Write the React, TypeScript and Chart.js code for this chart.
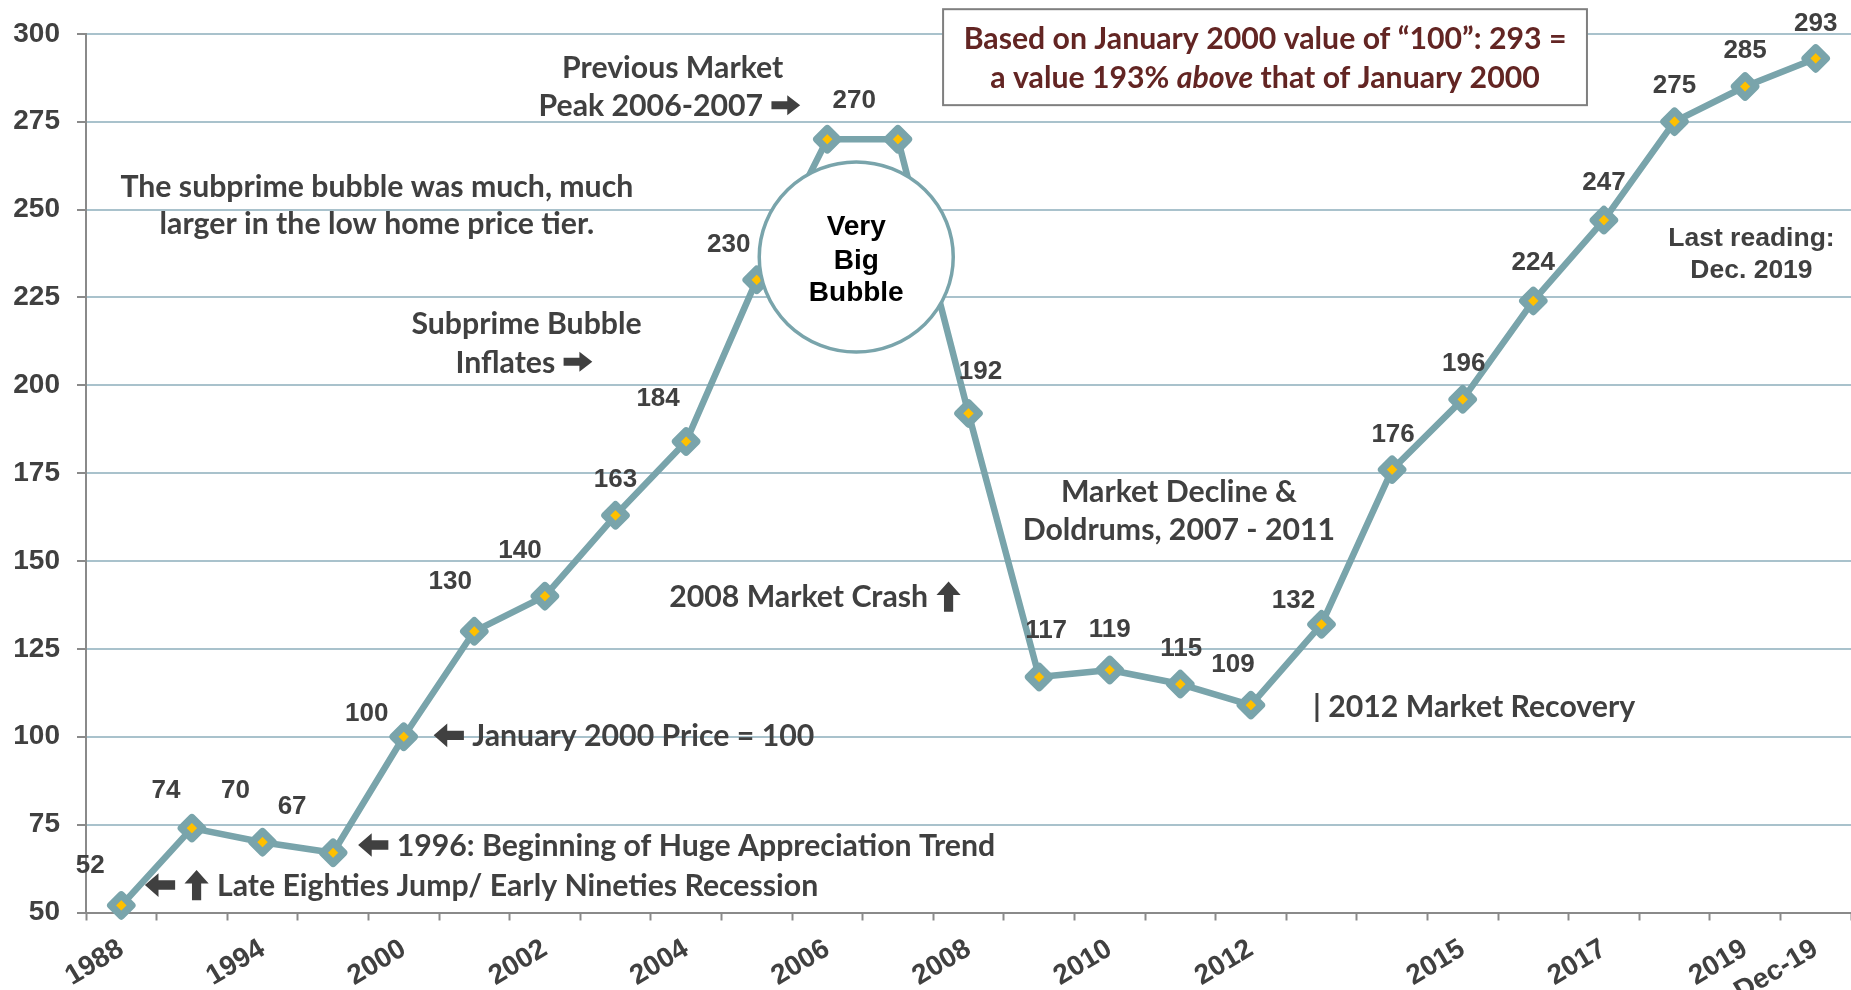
import React, { useEffect, useRef } from 'react';
import { Chart, registerables } from 'chart.js';

Chart.register(...registerables);

// ---------- data ----------
const categories = ['1988', '', '1994', '', '2000', '', '2002', '', '2004', '', '2006', '', '2008', '', '2010', '', '2012', '', '', '2015', '', '2017', '', '2019', 'Dec-19'];
const priceIndex = [52, 74, 70, 67, 100, 130, 140, 163, 184, 230, 270, 270, 192, 117, 119, 115, 109, 132, 176, 196, 224, 247, 275, 285, 293];
const yMin = 50;
const yMax = 300;
const yStep = 25;

// where each value label sits relative to its point (px); null = no label
const labelShift: ([number, number] | null)[] = [
  [-31, -42], [-26, -40], [-27, -54], [-41, -48], [-37, -25], [-24, -52], [-25, -48], [0, -38],
  [-28, -45], [-28, -37], [27, -41], null, [12, -44], [7, -48], [0, -42], [1, -37], [-18, -42],
  [-28, -26], [1, -37], [1, -38], [0, -40], [0, -39], [0, -38], [0, -38], [0, -37],
];

// annotation texts, anchored in data space (category index, value)
type Note = { text: string; at: [number, number]; align: 'left' | 'center' };
const notes: Note[] = [
  { text: 'Previous Market', at: [7.81, 290.5], align: 'center' },
  { text: 'Peak 2006-2007 {R}', at: [7.77, 279.7], align: 'center' },
  { text: 'The subprime bubble was much, much', at: [3.62, 256.7], align: 'center' },
  { text: 'larger in the low home price tier.', at: [3.62, 246.2], align: 'center' },
  { text: 'Subprime Bubble', at: [5.74, 217.8], align: 'center' },
  { text: 'Inflates {R}', at: [5.71, 206.7], align: 'center' },
  { text: 'Market Decline &', at: [14.98, 170], align: 'center' },
  { text: 'Doldrums, 2007 - 2011', at: [14.98, 159], align: 'center' },
  { text: '2008 Market Crash {U}', at: [7.76, 139.9], align: 'left' },
  { text: '| 2012 Market Recovery', at: [16.88, 108.7], align: 'left' },
  { text: '{L} January 2000 Price = 100', at: [4.41, 100.4], align: 'left' },
  { text: '{L} 1996: Beginning of Huge Appreciation Trend', at: [3.34, 69.2], align: 'left' },
  { text: '{L} {U} Late Eighties Jump/ Early Nineties Recession', at: [0.32, 57.8], align: 'left' },
];
const bubbleWords = ['Very', 'Big', 'Bubble'];
const bubbleWordValues = [245.6, 236.0, 226.8];
const bubbleCenter: [number, number] = [10.41, 236.5];
const lastReading = ['Last reading:', 'Dec. 2019'];
const lastReadingAt: [number, number][] = [[23.09, 242.2], [23.09, 233.1]];
const boxLines = ['Based on January 2000 value of \u201C100\u201D: 293 =', 'a value 193% *above* that of January 2000'];
const boxLineAt: [number, number][] = [[16.2, 298.7], [16.2, 287.6]];
const boxCorners: [number, number][] = [[11.64, 307.0], [20.76, 279.7]];

// ---------- styles ----------
const TEAL = '#79a4ab';
const YELLOW = '#ffc000';
const AXIS = '#8a8a8a';
const GRID = '#a9c2cc';
const TEXT = '#404040';
const DARKRED = '#632523';
const ARIAL = '"Liberation Sans", Arial, sans-serif';
const CALIBRI = 'Lato, "Liberation Sans", sans-serif';

type Part = { t: string; italic?: boolean; arrow?: 'L' | 'R' | 'U' };

function parse(text: string): Part[] {
  const out: Part[] = [];
  text.split(/(\{[LRU]\}|\*[^*]+\*)/).forEach((s) => {
    if (!s) return;
    if (/^\{[LRU]\}$/.test(s)) out.push({ t: '', arrow: s[1] as 'L' | 'R' | 'U' });
    else if (/^\*[^*]+\*$/.test(s)) out.push({ t: s.slice(1, -1), italic: true });
    else out.push({ t: s });
  });
  return out;
}

function arrowSize(dir: 'L' | 'R' | 'U', s: number): [number, number] {
  if (dir === 'U') return [s * 0.8, s * 1.0];
  if (dir === 'L') return [s * 1.0, s * 0.78];
  return [s * 0.95, s * 0.66];
}

function drawArrow(ctx: CanvasRenderingContext2D, x: number, cy: number, dir: 'L' | 'R' | 'U', s: number) {
  const [w, h] = arrowSize(dir, s);
  ctx.beginPath();
  if (dir === 'U') {
    const hh = h * 0.45;
    const t = w * 0.19;
    const cx = x + w / 2;
    const top = cy - h / 2;
    ctx.moveTo(cx, top);
    ctx.lineTo(x + w, top + hh);
    ctx.lineTo(cx + t, top + hh);
    ctx.lineTo(cx + t, cy + h / 2);
    ctx.lineTo(cx - t, cy + h / 2);
    ctx.lineTo(cx - t, top + hh);
    ctx.lineTo(x, top + hh);
  } else {
    const hw = w * 0.45;
    const t = h * 0.2;
    const sgn = dir === 'L' ? 1 : -1;
    const tip = dir === 'L' ? x : x + w;
    const tail = dir === 'L' ? x + w : x;
    ctx.moveTo(tip, cy);
    ctx.lineTo(tip + sgn * hw, cy - h / 2);
    ctx.lineTo(tip + sgn * hw, cy - t);
    ctx.lineTo(tail, cy - t);
    ctx.lineTo(tail, cy + t);
    ctx.lineTo(tip + sgn * hw, cy + t);
    ctx.lineTo(tip + sgn * hw, cy + h / 2);
  }
  ctx.closePath();
  ctx.fill();
}

function drawRich(
  ctx: CanvasRenderingContext2D,
  text: string,
  x: number,
  cy: number,
  align: 'left' | 'center',
  size: number,
  family: string,
  color: string,
) {
  const parts = parse(text);
  const fontOf = (p: Part) => `${p.italic ? 'italic ' : ''}bold ${size}px ${family}`;
  const widths = parts.map((p) => {
    if (p.arrow) return arrowSize(p.arrow, size)[0] + 2;
    ctx.font = fontOf(p);
    return ctx.measureText(p.t).width;
  });
  const total = widths.reduce((a, b) => a + b, 0);
  let cur = align === 'center' ? x - total / 2 : x;
  ctx.fillStyle = color;
  ctx.textAlign = 'left';
  ctx.textBaseline = 'alphabetic';
  parts.forEach((p, i) => {
    if (p.arrow) {
      drawArrow(ctx, cur + 1, cy, p.arrow, size);
    } else {
      ctx.font = fontOf(p);
      ctx.fillText(p.t, cur, cy + size * 0.36);
    }
    cur += widths[i];
  });
}

const overlayPlugin = {
  id: 'overlay',
  beforeDatasetsDraw(chart: any) {
    chart.ctx.save();
    chart.ctx.lineJoin = 'round';
  },
  afterDatasetsDraw(chart: any) {
    chart.ctx.restore();
    const ctx: CanvasRenderingContext2D = chart.ctx;
    const xs = chart.scales.x;
    const ys = chart.scales.y;
    const X = (v: number) => xs.getPixelForValue(v);
    const Y = (v: number) => ys.getPixelForValue(v);
    ctx.save();

    // annotation font size fitted on a reference line
    ctx.font = `bold 100px ${CALIBRI}`;
    const ref = ctx.measureText('The subprime bubble was much, much').width;
    const noteSize = (100 * 513) / ref;

    // bubble
    const bx = X(bubbleCenter[0]);
    const by = Y(bubbleCenter[1]);
    ctx.beginPath();
    ctx.ellipse(bx, by, 97, 95, 0, 0, Math.PI * 2);
    ctx.fillStyle = '#ffffff';
    ctx.fill();
    ctx.lineWidth = 3.5;
    ctx.strokeStyle = TEAL;
    ctx.stroke();
    bubbleWords.forEach((w, i) => {
      drawRich(ctx, w, bx, Y(bubbleWordValues[i]), 'center', 28, ARIAL, '#000000');
    });

    // value labels
    priceIndex.forEach((v, i) => {
      const sh = labelShift[i];
      if (!sh) return;
      ctx.font = `bold 26px ${ARIAL}`;
      ctx.fillStyle = TEXT;
      ctx.textAlign = 'center';
      ctx.textBaseline = 'alphabetic';
      ctx.fillText(String(v), X(i) + sh[0], Y(v) + sh[1] + 26 * 0.36);
    });

    // notes
    notes.forEach((n) => {
      drawRich(ctx, n.text, X(n.at[0]), Y(n.at[1]), n.align, noteSize, CALIBRI, TEXT);
    });

    lastReading.forEach((t, i) => {
      drawRich(ctx, t, X(lastReadingAt[i][0]), Y(lastReadingAt[i][1]), 'center', 26.5, ARIAL, TEXT);
    });

    // box
    const x0 = X(boxCorners[0][0]);
    const y0 = Y(boxCorners[0][1]);
    const x1 = X(boxCorners[1][0]);
    const y1 = Y(boxCorners[1][1]);
    ctx.fillStyle = '#ffffff';
    ctx.fillRect(x0, y0, x1 - x0, y1 - y0);
    ctx.lineWidth = 2;
    ctx.strokeStyle = '#7f7f7f';
    ctx.strokeRect(x0, y0, x1 - x0, y1 - y0);
    boxLines.forEach((t, i) => {
      drawRich(ctx, t, X(boxLineAt[i][0]), Y(boxLineAt[i][1]), 'center', noteSize, CALIBRI, DARKRED);
    });

    ctx.restore();
  },
};

export default function App() {
  const canvasRef = useRef<HTMLCanvasElement | null>(null);

  useEffect(() => {
    document.body.style.margin = '0';
    const canvas = canvasRef.current;
    if (!canvas) return;
    const tickFont = { family: ARIAL, size: 28, weight: 'bold' as const };
    const chart = new Chart(canvas, {
      type: 'line',
      data: {
        labels: categories,
        datasets: [
          {
            data: priceIndex,
            borderColor: TEAL,
            borderWidth: 6.5,
            borderJoinStyle: 'round',
            tension: 0,
            pointStyle: 'rectRot',
            pointRadius: 10.5,
            pointBorderWidth: 7.5,
            pointBackgroundColor: YELLOW,
            pointBorderColor: TEAL,
            clip: false as any,
          },
        ],
      },
      options: {
        animation: false,
        responsive: false,
        devicePixelRatio: 1,
        layout: { autoPadding: false, padding: { top: 32, right: -2, left: 0, bottom: 0 } },
        plugins: { legend: { display: false }, tooltip: { enabled: false } },
        scales: {
          x: {
            type: 'category',
            offset: true,
            grid: {
              display: true,
              offset: true,
              drawOnChartArea: false,
              drawTicks: true,
              tickLength: 8,
              tickColor: AXIS,
              tickWidth: 2,
            },
            border: { display: true, color: AXIS, width: 2 },
            ticks: {
              autoSkip: false,
              maxRotation: 31,
              minRotation: 31,
              padding: 12,
              color: TEXT,
              font: tickFont,
            },
            afterFit: (s: any) => {
              s.height = 77.5;
              s.paddingRight = 0;
              s.paddingLeft = 0;
            },
          },
          y: {
            min: yMin,
            max: yMax,
            ticks: { stepSize: yStep, padding: 17, color: TEXT, font: tickFont },
            grid: { color: GRID, lineWidth: 2, tickColor: AXIS, tickLength: 9, tickWidth: 2 },
            border: { display: true, color: AXIS, width: 2 },
            afterFit: (s: any) => {
              s.width = 86;
            },
          },
        },
      },
      plugins: [overlayPlugin],
    });
    return () => chart.destroy();
  }, []);

  return (
    <div style={{ position: 'absolute', left: 0, top: 0, width: 1851, height: 990 }}>
      <canvas ref={canvasRef} width={1851} height={990} style={{ display: 'block' }} />
    </div>
  );
}
